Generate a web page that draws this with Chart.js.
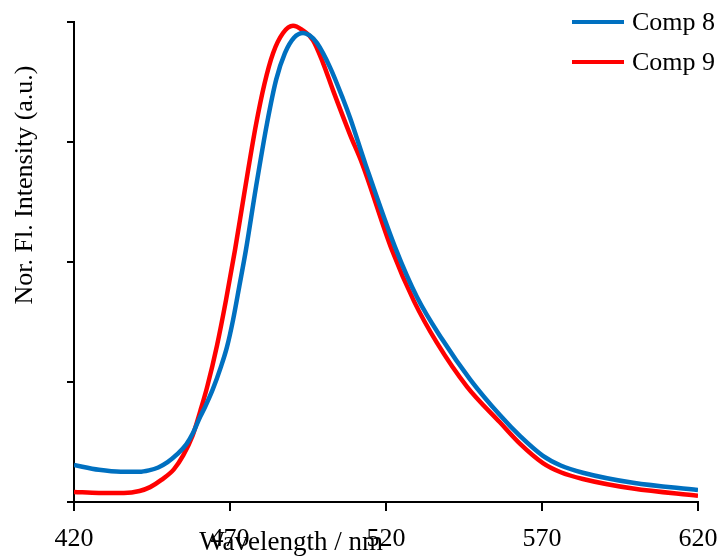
<!DOCTYPE html>
<html>
<head>
<meta charset="utf-8">
<script src="https://cdn.jsdelivr.net/npm/chart.js@4"></script>
<style>
  html, body { margin: 0; padding: 0; background: #fff; }
  #wrap { width: 722px; height: 558px; }
</style>
</head>
<body>
<div id="wrap"><canvas id="canvas" width="722" height="558"></canvas></div>
<script>
// emission spectra (wavelength nm, normalised intensity)
const comp8X = [420, 428, 435, 441, 444, 447, 450, 453, 456, 458, 460.4, 462, 464.5, 467, 469, 471, 473, 475.1, 478.3, 481.9, 484.8, 487.6, 490.5, 493.4, 495.5, 497.9, 502.1, 506.2, 508.5, 513.3, 522.9, 530, 537.9, 547, 556.5, 563, 570.3, 576, 583.1, 599.2, 620];
const comp8Y = [0.077, 0.067, 0.063, 0.063, 0.066, 0.072, 0.083, 0.099, 0.120, 0.142, 0.177, 0.198, 0.235, 0.280, 0.322, 0.380, 0.450, 0.525, 0.655, 0.790, 0.880, 0.935, 0.967, 0.977, 0.972, 0.956, 0.905, 0.840, 0.800, 0.706, 0.531, 0.426, 0.340, 0.255, 0.181, 0.137, 0.096, 0.076, 0.061, 0.040, 0.025];

const comp9X = [420, 428, 436, 441, 444.4, 448, 452, 455, 458, 460.5, 462.7, 465.8, 468.7, 471.6, 474.5, 478.3, 481, 483.8, 487, 490.2, 493, 496.6, 499.8, 503, 508.5, 512.3, 521.9, 529, 536.3, 546, 556.5, 563, 570.3, 576, 583.1, 599.2, 620];
const comp9Y = [0.021, 0.019, 0.019, 0.023, 0.031, 0.046, 0.068, 0.097, 0.138, 0.190, 0.240, 0.325, 0.420, 0.525, 0.640, 0.785, 0.870, 0.935, 0.977, 0.992, 0.984, 0.962, 0.915, 0.858, 0.765, 0.706, 0.525, 0.418, 0.332, 0.240, 0.166, 0.121, 0.081, 0.062, 0.048, 0.028, 0.013];

const xTicks = [420, 470, 520, 570, 620];
const labels = ["Comp 8", "Comp 9"];
const colors = ["#0070C0", "#FF0000"];

const toPoints = (xs, ys) => xs.map((x, i) => ({ x: x, y: ys[i] }));

const serif = '"Liberation Serif", "Times New Roman", serif';

// axis titles + legend drawn by hand (they sit where Excel put them)
const extras = {
  id: 'extras',
  afterDraw(chart) {
    const ctx = chart.ctx;
    const area = chart.chartArea;
    ctx.save();
    ctx.fillStyle = '#000';
    ctx.font = '27px ' + serif;
    ctx.textAlign = 'center';
    ctx.textBaseline = 'middle';
    ctx.fillText('Wavelength / nm', area.left + (area.right - area.left) * 0.348, 543);

    ctx.translate(25, 185);
    ctx.rotate(-Math.PI / 2);
    ctx.font = '26px ' + serif;
    ctx.fillText('Nor. Fl. Intensity (a.u.)', 0, 0);
    ctx.restore();

    ctx.save();
    chart.data.datasets.forEach((ds, i) => {
      const y = 22 + i * 40;
      ctx.strokeStyle = ds.borderColor;
      ctx.lineWidth = 4;
      ctx.beginPath();
      ctx.moveTo(572, y);
      ctx.lineTo(624, y);
      ctx.stroke();
      ctx.fillStyle = '#000';
      ctx.font = '26px ' + serif;
      ctx.textAlign = 'left';
      ctx.textBaseline = 'middle';
      ctx.fillText(ds.label, 632, y + 1);
    });
    ctx.restore();
  }
};

new Chart(document.getElementById('canvas').getContext('2d'), {
  type: 'line',
  data: {
    datasets: [
      {
        label: labels[0],
        data: toPoints(comp8X, comp8Y),
        borderColor: colors[0],
        backgroundColor: colors[0],
        borderWidth: 4.5,
        pointRadius: 0,
        cubicInterpolationMode: 'monotone',
        fill: false
      },
      {
        label: labels[1],
        data: toPoints(comp9X, comp9Y),
        borderColor: colors[1],
        backgroundColor: colors[1],
        borderWidth: 4.5,
        pointRadius: 0,
        cubicInterpolationMode: 'monotone',
        fill: false
      }
    ]
  },
  options: {
    responsive: false,
    animation: false,
    layout: { padding: { top: 22, right: 24, left: 0, bottom: 0 } },
    plugins: {
      legend: { display: false },
      tooltip: { enabled: false }
    },
    scales: {
      x: {
        type: 'linear',
        min: 420,
        max: 620,
        afterBuildTicks: (s) => { s.ticks = xTicks.map(v => ({ value: v })); },
        ticks: {
          color: '#000',
          font: { family: serif, size: 26 },
          padding: 13,
          maxRotation: 0
        },
        grid: { drawOnChartArea: false, drawTicks: true, tickLength: 9, color: '#000', lineWidth: 2 },
        border: { color: '#000', width: 2 },
        afterFit: (s) => { s.height = 56; s.paddingLeft = 0; s.paddingRight = 0; }
      },
      y: {
        min: 0,
        max: 1,
        ticks: { stepSize: 0.25, callback: () => '' },
        grid: { drawOnChartArea: false, drawTicks: true, tickLength: 7, color: '#000', lineWidth: 2 },
        border: { color: '#000', width: 2 },
        afterFit: (s) => { s.width = 74; s.paddingTop = 0; s.paddingBottom = 0; }
      }
    }
  },
  plugins: [extras]
});
</script>
</body>
</html>
